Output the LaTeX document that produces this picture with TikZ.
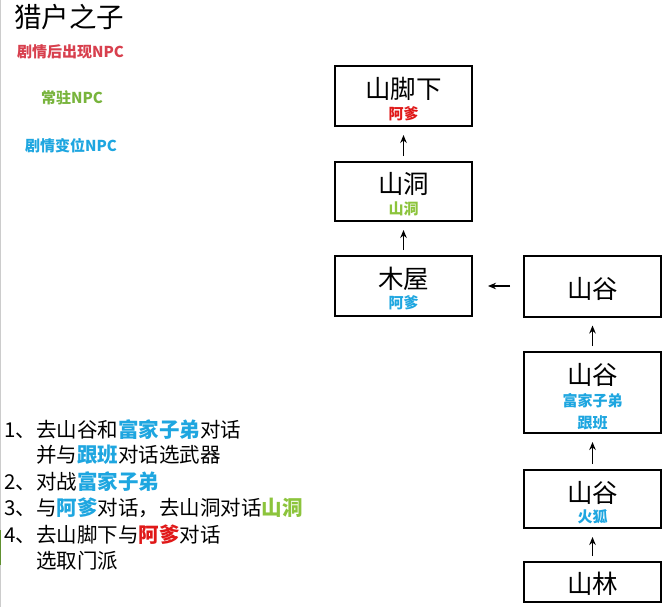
\documentclass[tikz,border=0pt]{standalone}
\usepackage{fontspec}
\setmainfont{Noto Sans CJK SC}
\usetikzlibrary{arrows.meta}
\definecolor{cred}{HTML}{D8404E}
\definecolor{cgreen}{HTML}{78B43C}
\definecolor{cblue}{HTML}{1EA6E0}
\definecolor{rred}{HTML}{E01818}
\definecolor{lgreen}{HTML}{8CC43C}
\tikzset{
  room/.style={draw=black, line width=2pt, minimum width=137pt, inner sep=0pt},
  big/.style={font=\fontsize{25.5}{27}\selectfont, inner sep=0pt},
  sub/.style={font=\fontsize{15}{17}\selectfont\bfseries, inner sep=0pt},
  legend/.style={font=\fontsize{15}{17}\selectfont\bfseries, inner sep=0pt, anchor=west},
  line/.style={font=\fontsize{20.5}{22}\selectfont, inner sep=0pt, anchor=west},
  flow/.style={-{Stealth[length=8pt,width=6.5pt]}, line width=1.3pt, shorten <=5pt, shorten >=8pt},
}
\begin{document}
\begin{tikzpicture}[x=1pt,y=-1pt]
\useasboundingbox (0,0) rectangle (671,607);
\fill[white] (0,0) rectangle (671,607);
\draw[black!20, line width=1pt] (0.5,0) -- (0.5,607);
\draw[cgreen!80!black, line width=1.2pt] (0.6,530) -- (0.6,565);
% title and legend
\node[anchor=west, inner sep=0pt, font=\fontsize{27.5}{29}\selectfont] (title) at (14,17) {猎户之子};
\node[legend, text=cred] (lg1) at (17,52) {剧情后出现NPC};
\node[legend, text=cgreen] (lg2) at (41,98) {常驻NPC};
\node[legend, text=cblue] (lg3) at (25,146) {剧情变位NPC};
% left column boxes
\node[room, minimum height=60pt] (b1) at (403.5,96) {};
\node[big] (b1t) at (403.5,89) {山脚下};
\node[sub, text=rred] (b1s) at (403.5,114) {阿爹};
\node[room, minimum height=59pt] (b2) at (403.5,191.5) {};
\node[big] (b2t) at (403.5,184) {山洞};
\node[sub, text=lgreen] (b2s) at (403.5,209) {山洞};
\node[room, minimum height=60pt] (b3) at (403.5,286) {};
\node[big] (b3t) at (403.5,279) {木屋};
\node[sub, text=cblue] (b3s) at (403.5,303) {阿爹};
% right column boxes
\node[room, minimum height=61pt] (r1) at (592.5,286) {};
\node[big] (r1t) at (592.5,289) {山谷};
\node[room, minimum height=81pt] (r2) at (592.5,392.5) {};
\node[big] (r2t) at (592.5,375) {山谷};
\node[sub, text=cblue] (r2s) at (592.5,401) {富家子弟};
\node[sub, text=cblue] (r2u) at (592.5,423) {跟班};
\node[room, minimum height=58pt] (r3) at (592.5,499) {};
\node[big] (r3t) at (592.5,493) {山谷};
\node[sub, text=cblue] (r3s) at (592.5,517) {火狐};
\node[room, minimum height=40pt] (r4) at (592.5,582) {};
\node[big] (r4t) at (592.5,584) {山林};
% arrows
\draw[flow] (r4) -- (r3);
\draw[flow] (r3) -- (r2);
\draw[flow] (r2) -- (r1);
\draw[flow, shorten <=13pt, shorten >=15pt] (r1) -- (b3);
\draw[flow] (b3) -- (b2);
\draw[flow] (b2) -- (b1);
% list
\node[line] (l1) at (4,430) {1、去山谷和\textcolor{cblue}{\bfseries 富家子弟}对话};
\node[line] (l1b) at (36,455) {并与\textcolor{cblue}{\bfseries 跟班}对话选武器};
\node[line] (l2) at (4,482) {2、对战\textcolor{cblue}{\bfseries 富家子弟}};
\node[line] (l3) at (4,508) {3、与\textcolor{cblue}{\bfseries 阿爹}对话，去山洞对话\textcolor{lgreen}{\bfseries 山洞}};
\node[line] (l4) at (4,535) {4、去山脚下与\textcolor{rred}{\bfseries 阿爹}对话};
\node[line] (l4b) at (36,561) {选取门派};
\end{tikzpicture}
\end{document}
